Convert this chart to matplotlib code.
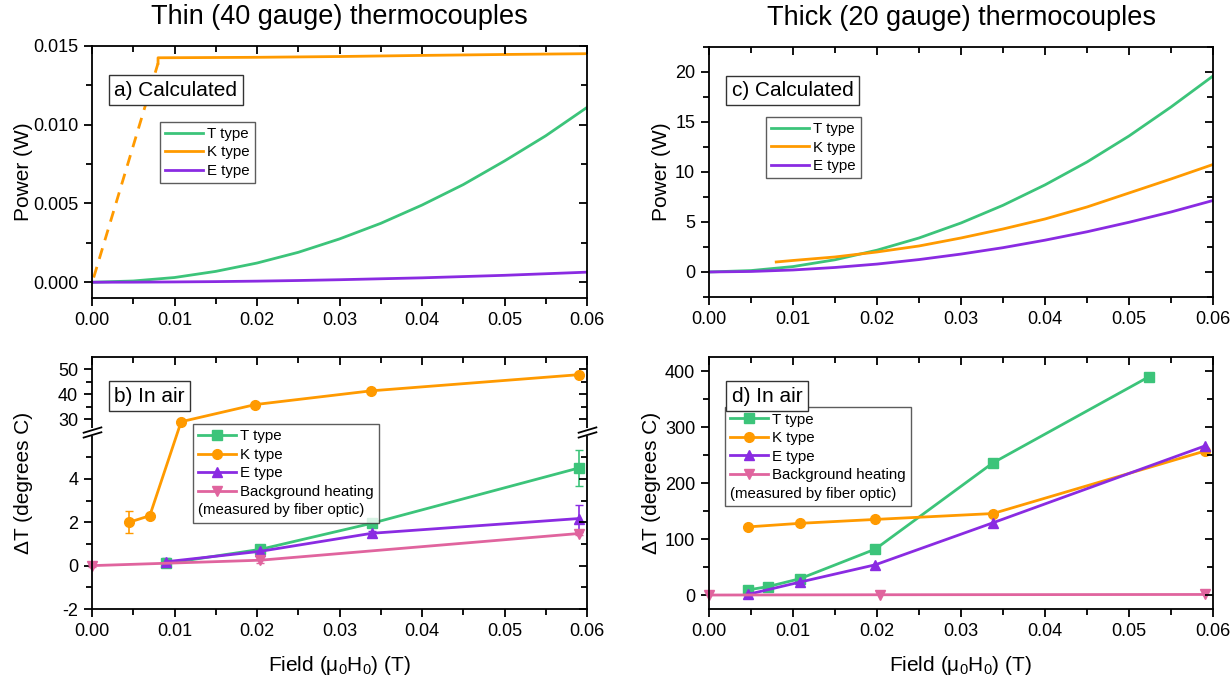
import matplotlib
matplotlib.use("Agg")
import matplotlib.pyplot as plt
import numpy as np
from matplotlib.ticker import MultipleLocator, FixedLocator, FormatStrFormatter
from matplotlib.path import Path
from matplotlib.lines import Line2D

plt.rcParams['font.family'] = ['Liberation Sans', 'DejaVu Sans']
plt.rcParams['mathtext.fontset'] = 'custom'
plt.rcParams['mathtext.rm'] = 'Liberation Sans'
plt.rcParams['axes.unicode_minus'] = False

GREEN = '#3cc47a'
ORANGE = '#ff9a00'
PURPLE = '#8a2be2'
PINK = '#e0649e'

# ---- a) thin, calculated power (W)
calc_x = [0, 0.005, 0.01, 0.015, 0.02, 0.025, 0.03, 0.035, 0.04, 0.045, 0.05, 0.055, 0.06]
thin_T = [0, 0.00008, 0.0003, 0.00069, 0.00122, 0.0019, 0.00275, 0.00374, 0.0049,
          0.0062, 0.0077, 0.0093, 0.0111]
thin_E = [0, 0.000005, 0.00002, 0.00004, 0.00007, 0.00011, 0.00016, 0.00022, 0.00028,
          0.00036, 0.00044, 0.00054, 0.00064]
thin_K_dash_x = [0.0002, 0.008]
thin_K_dash_y = [0.0003, 0.0139]
thin_K_x = [0.008, 0.008, 0.02, 0.03, 0.04, 0.05, 0.06]
thin_K_y = [0.0139, 0.01425, 0.01428, 0.01433, 0.0144, 0.01446, 0.01451]

# ---- c) thick, calculated power (W)
thick_T = [0, 0.14, 0.54, 1.22, 2.18, 3.4, 4.9, 6.67, 8.71, 11.0, 13.6, 16.5, 19.6]
thick_E = [0, 0.05, 0.2, 0.45, 0.79, 1.24, 1.79, 2.43, 3.18, 4.02, 4.97, 6.0, 7.15]
thick_K_x = [0.008, 0.01, 0.015, 0.02, 0.025, 0.03, 0.035, 0.04, 0.045, 0.05, 0.055, 0.06]
thick_K = [1.0, 1.15, 1.5, 2.0, 2.6, 3.4, 4.3, 5.3, 6.5, 7.9, 9.3, 10.75]

# ---- b) thin, in air (delta T)
b_T_x = [0.009, 0.0204, 0.0339, 0.059]
b_T_y = [0.1, 0.75, 1.95, 4.5]
b_T_err = [0.1, 0.1, 0.1, 0.82]
b_K_x = [0.0045, 0.007, 0.0108, 0.0198, 0.0338, 0.059]
b_K_y = [2.0, 2.3, 29.0, 35.9, 41.4, 47.9]
b_K_err = [0.5, 0.1, 0.3, 0.3, 0.3, 0.3]
b_E_x = [0.009, 0.0204, 0.0339, 0.059]
b_E_y = [0.18, 0.66, 1.49, 2.17]
b_E_err = [0.15, 0.1, 0.1, 0.63]
b_B_x = [0.0, 0.0204, 0.059]
b_B_y = [0.0, 0.25, 1.48]
b_B_err = [0.05, 0.15, 0.08]

# ---- d) thick, in air (delta T)
d_T_x = [0.0046, 0.007, 0.0108, 0.0198, 0.0338, 0.0524]
d_T_y = [9, 15, 29, 82, 236, 390]
d_K_x = [0.0046, 0.0108, 0.0198, 0.0338, 0.059]
d_K_y = [121.6, 128, 135, 145.5, 257]
d_E_x = [0.0046, 0.0108, 0.0198, 0.0338, 0.059]
d_E_y = [1, 23, 54, 129, 266]
d_B_x = [0.0, 0.0204, 0.059]
d_B_y = [0.0, 0.5, 1.0]

series_names = ['T type', 'K type', 'E type', 'Background heating']
series_colors = [GREEN, ORANGE, PURPLE, PINK]
series_markers = ['s', 'o', '^', 'v']

TICK_FS = 13
LAB_FS = 15
LEG_FS = 10.8
LW = 2.0
LEG_KW = dict(fontsize=LEG_FS, frameon=True, fancybox=False, edgecolor='#333333',
              handlelength=2.5, handletextpad=0.3, labelspacing=0.3, borderpad=0.35,
              borderaxespad=0, loc='upper left')

# broken y scale for panel b
BR_LO, BR_HI = 6.15, 24.8
K_UP = 0.1147


def fwd(y):
    y = np.asarray(y, dtype=float)
    return np.where(y <= BR_LO, y, BR_LO + (np.maximum(y, BR_HI) - BR_HI) * K_UP)


def inv(t):
    t = np.asarray(t, dtype=float)
    return np.where(t <= BR_LO, t, BR_HI + (t - BR_LO) / K_UP)


fig = plt.figure(figsize=(12.32, 6.83), dpi=100)
axA = fig.add_axes([0.0747, 0.5637, 0.4018, 0.369])
axC = fig.add_axes([0.5755, 0.5652, 0.4091, 0.366])
axB = fig.add_axes([0.0747, 0.1083, 0.4018, 0.369])
axD = fig.add_axes([0.5755, 0.1083, 0.4091, 0.369])


def style(ax, ymaj, ymin, yfmt=None, scaled=False):
    ax.set_xlim(0, 0.06)
    ax.xaxis.set_major_locator(MultipleLocator(0.01))
    ax.xaxis.set_minor_locator(MultipleLocator(0.005))
    ax.xaxis.set_major_formatter(FormatStrFormatter('%.2f'))
    if scaled:
        ax.yaxis.set_major_locator(FixedLocator(ymaj))
        ax.yaxis.set_minor_locator(FixedLocator(ymin))
    else:
        ax.yaxis.set_major_locator(MultipleLocator(ymaj))
        ax.yaxis.set_minor_locator(MultipleLocator(ymin))
    if yfmt:
        ax.yaxis.set_major_formatter(FormatStrFormatter(yfmt))
    ax.tick_params(which='both', direction='out', labelsize=TICK_FS, width=1.3, pad=4)
    ax.tick_params(which='major', length=6)
    ax.tick_params(which='minor', length=4)
    for s in ax.spines.values():
        s.set_linewidth(1.3)
    # mirrored ticks pointing inward on top and right
    tx = ax.twiny()
    tx.set_xlim(ax.get_xlim())
    tx.xaxis.set_major_locator(MultipleLocator(0.01))
    tx.xaxis.set_minor_locator(MultipleLocator(0.005))
    tx.tick_params(which='both', direction='in', labeltop=False, width=1.3)
    tx.tick_params(which='major', length=6)
    tx.tick_params(which='minor', length=4)
    ty = ax.twinx()
    if scaled:
        ty.set_yscale('function', functions=(fwd, inv))
        ty.set_ylim(ax.get_ylim())
        ty.yaxis.set_major_locator(FixedLocator(ymaj))
        ty.yaxis.set_minor_locator(FixedLocator(ymin))
    else:
        ty.set_ylim(ax.get_ylim())
        ty.yaxis.set_major_locator(MultipleLocator(ymaj))
        ty.yaxis.set_minor_locator(MultipleLocator(ymin))
    ty.tick_params(which='both', direction='in', labelright=False, width=1.3)
    ty.tick_params(which='major', length=6)
    ty.tick_params(which='minor', length=4)
    for t in (tx, ty):
        for s in t.spines.values():
            s.set_visible(False)


def label_box(ax, x, y, s):
    ax.text(x, y, s, transform=ax.transAxes, fontsize=LAB_FS, va='center', ha='left',
            bbox=dict(boxstyle='square,pad=0.25', fc='white', ec='#333333', lw=1.0),
            zorder=10)


def marker_legend(ax, anchor):
    handles = [Line2D([], [], color=c, marker=m, ms=7, lw=LW)
               for c, m in zip(series_colors, series_markers)]
    handles.append(Line2D([], [], color='none'))
    labels = series_names + ['(measured by fiber optic)']
    leg = ax.legend(handles, labels, bbox_to_anchor=anchor, **LEG_KW)
    leg.get_frame().set_linewidth(1.0)
    leg.set_zorder(5)
    # last row: text starts under the handles
    col = leg._legend_handle_box.get_children()[0]
    row = col.get_children()[-1]
    row.get_children()[0].width = 0
    row.sep = 0
    return leg


# ---- panel a
axA.plot(calc_x, thin_T, color=GREEN, lw=LW, label='T type')
axA.plot(thin_K_x, thin_K_y, color=ORANGE, lw=LW, label='K type')
axA.plot(thin_K_dash_x, thin_K_dash_y, color=ORANGE, lw=LW, ls=(0, (4, 3)))
axA.plot(calc_x, thin_E, color=PURPLE, lw=LW, label='E type')
axA.set_ylim(-0.001, 0.015)
axA.set_ylabel('Power (W)', fontsize=LAB_FS, labelpad=0)
legA = axA.legend(bbox_to_anchor=(0.137, 0.70), **LEG_KW)
legA.get_frame().set_linewidth(1.0)
label_box(axA, 0.045, 0.825, 'a) Calculated')
style(axA, 0.005, 0.0025, '%.3f')
axA.set_title('Thin (40 gauge) thermocouples', fontsize=19.5, pad=16)

# ---- panel c
axC.plot(calc_x, thick_T, color=GREEN, lw=LW, label='T type')
axC.plot(thick_K_x, thick_K, color=ORANGE, lw=LW, label='K type')
axC.plot(calc_x, thick_E, color=PURPLE, lw=LW, label='E type')
axC.set_ylim(-2.5, 22.5)
axC.set_ylabel('Power (W)', fontsize=LAB_FS, labelpad=3)
legC = axC.legend(bbox_to_anchor=(0.113, 0.72), **LEG_KW)
legC.get_frame().set_linewidth(1.0)
label_box(axC, 0.045, 0.825, 'c) Calculated')
style(axC, 5, 2.5)
axC.set_title('Thick (20 gauge) thermocouples', fontsize=19.5, pad=16)

# ---- panel b (broken axis)
axB.set_yscale('function', functions=(fwd, inv))
mk = dict(lw=LW, ms=7, capsize=3, elinewidth=1.2)
axB.errorbar(b_T_x, b_T_y, yerr=b_T_err, color=GREEN, marker='s', **mk)
axB.errorbar(b_K_x, b_K_y, yerr=b_K_err, color=ORANGE, marker='o', **mk)
axB.errorbar(b_E_x, b_E_y, yerr=b_E_err, color=PURPLE, marker='^', **mk)
axB.errorbar(b_B_x, b_B_y, yerr=b_B_err, color=PINK, marker='v', clip_on=False, **mk)
axB.set_ylim(-2, 55)
axB.set_ylabel('ΔT (degrees C)', fontsize=LAB_FS, labelpad=18)
axB.set_xlabel('Field (μ$_\\mathregular{0}$H$_\\mathregular{0}$) (T)', fontsize=LAB_FS, labelpad=10)
marker_legend(axB, (0.204, 0.734))
label_box(axB, 0.045, 0.845, 'b) In air')
style(axB, [-2, 0, 2, 4, 30, 40, 50], [-1, 1, 3, 5, 35, 45], scaled=True)
# break marks on left and right spines
brk = Path([(-1, -0.55), (1, 0.05), (-1, -0.05), (1, 0.55)],
           [Path.MOVETO, Path.LINETO, Path.MOVETO, Path.LINETO])
axB.plot([0, 1], [BR_LO + 0.05, BR_LO + 0.05], transform=axB.get_yaxis_transform(),
         ls='none', marker='|', ms=6, mew=4, color='white', clip_on=False, zorder=20)
axB.plot([0, 1], [BR_LO + 0.05, BR_LO + 0.05], transform=axB.get_yaxis_transform(),
         ls='none', marker=brk, ms=14, mew=1.3, color='black', clip_on=False, zorder=21)

# ---- panel d
axD.plot(d_T_x, d_T_y, color=GREEN, lw=LW, marker='s', ms=7)
axD.plot(d_K_x, d_K_y, color=ORANGE, lw=LW, marker='o', ms=7)
axD.plot(d_E_x, d_E_y, color=PURPLE, lw=LW, marker='^', ms=7)
axD.plot(d_B_x, d_B_y, color=PINK, lw=LW, marker='v', ms=7, clip_on=False)
axD.set_ylim(-25, 425)
axD.set_ylabel('ΔT (degrees C)', fontsize=LAB_FS, labelpad=3)
axD.set_xlabel('Field (μ$_\\mathregular{0}$H$_\\mathregular{0}$) (T)', fontsize=LAB_FS, labelpad=10)
marker_legend(axD, (0.032, 0.80))
label_box(axD, 0.045, 0.845, 'd) In air')
style(axD, 100, 50)

fig.savefig('out.png', dpi=100)
